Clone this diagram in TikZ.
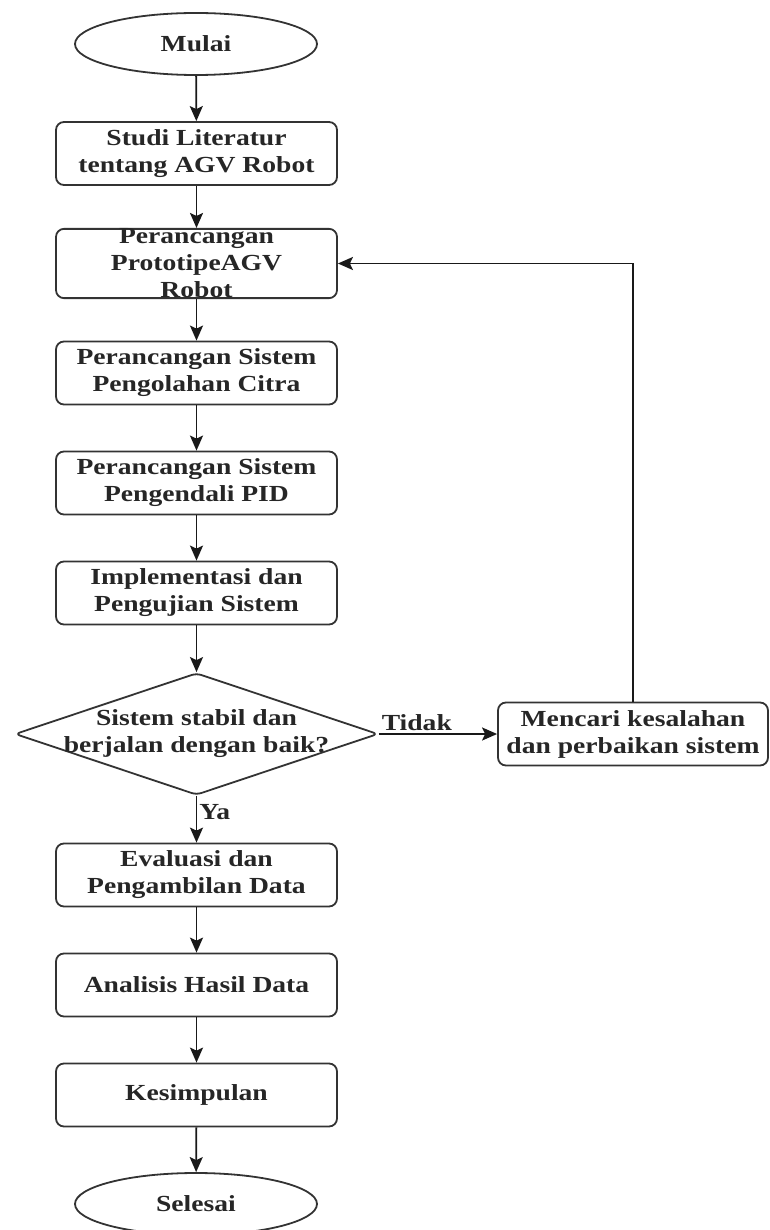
\documentclass[tikz,border=0pt]{standalone}
\usepackage{fontspec}
\setmainfont{Liberation Serif}[FakeStretch=1.2]
\usetikzlibrary{shapes.geometric,arrows.meta}
\begin{document}
\begin{tikzpicture}[x=1pt,y=-1pt,>={Stealth[length=15pt,width=13pt,inset=3pt]},
    font=\fontsize{23}{27}\selectfont\bfseries,
    every node/.style={text=black!85},
    proses/.style={draw=black!80,line width=1.8pt,rounded corners=8pt,minimum width=281pt,minimum height=63pt,align=center,inner sep=0pt},
    terminal/.style={draw=black!80,line width=1.8pt,ellipse,minimum width=242pt,minimum height=62pt,inner sep=0pt},
    keputusan/.style={draw=black!80,line width=1.8pt,diamond,rounded corners=5pt,minimum width=363pt,minimum height=122pt,inner sep=0pt},
    panah/.style={->,line width=1.8pt,black!90}]
        \useasboundingbox (0, 0) rectangle (770, 1230);
        \node[terminal] (mulai) at (196, 44) {Mulai};
        \node[proses] (studi) at (196.5, 153.5) {Studi Literatur\\tentang AGV Robot};
        \node[proses] (proto) at (196.5, 263.5) {Perancangan\\PrototipeAGV\\Robot};
        \node[proses] (citra) at (196.5, 373) {Perancangan Sistem\\Pengolahan Citra};
        \node[proses] (pid) at (196.5, 483) {Perancangan Sistem\\Pengendali PID};
        \node[proses] (impl) at (196.5, 593) {Implementasi dan\\Pengujian Sistem};
        \node[keputusan] (cek) at (196.5, 734) {};
        \node[align=center] (cektext) at (cek) {Sistem stabil dan\\berjalan dengan baik?};
        \node[proses, minimum width=270pt] (cari) at (633, 734) {Mencari kesalahan\\dan perbaikan sistem};
        \node[proses] (eval) at (196.5, 875) {Evaluasi dan\\Pengambilan Data};
        \node[proses] (analisis) at (196.5, 985) {Analisis Hasil Data};
        \node[proses] (simpul) at (196.5, 1095) {Kesimpulan};
        \node[terminal] (selesai) at (196, 1204) {Selesai};
        \draw[panah] (mulai) -- (studi);
        \draw[panah] (studi) -- (proto);
        \draw[panah] (proto) -- (citra);
        \draw[panah] (citra) -- (pid);
        \draw[panah] (pid) -- (impl);
        \draw[panah] (impl) -- (cek);
        \draw[panah] (cek.east) -- (cari.west) node[pos=0, anchor=south west, inner sep=2pt] {Tidak};
        \draw[panah] (cari.north) |- (proto.east);
        \draw[panah] (cek.south) -- (eval.north) node[pos=0.35, anchor=west, inner sep=2pt] {Ya};
        \draw[panah] (eval) -- (analisis);
        \draw[panah] (analisis) -- (simpul);
        \draw[panah] (simpul) -- (selesai);
      \end{tikzpicture}
\end{document}
